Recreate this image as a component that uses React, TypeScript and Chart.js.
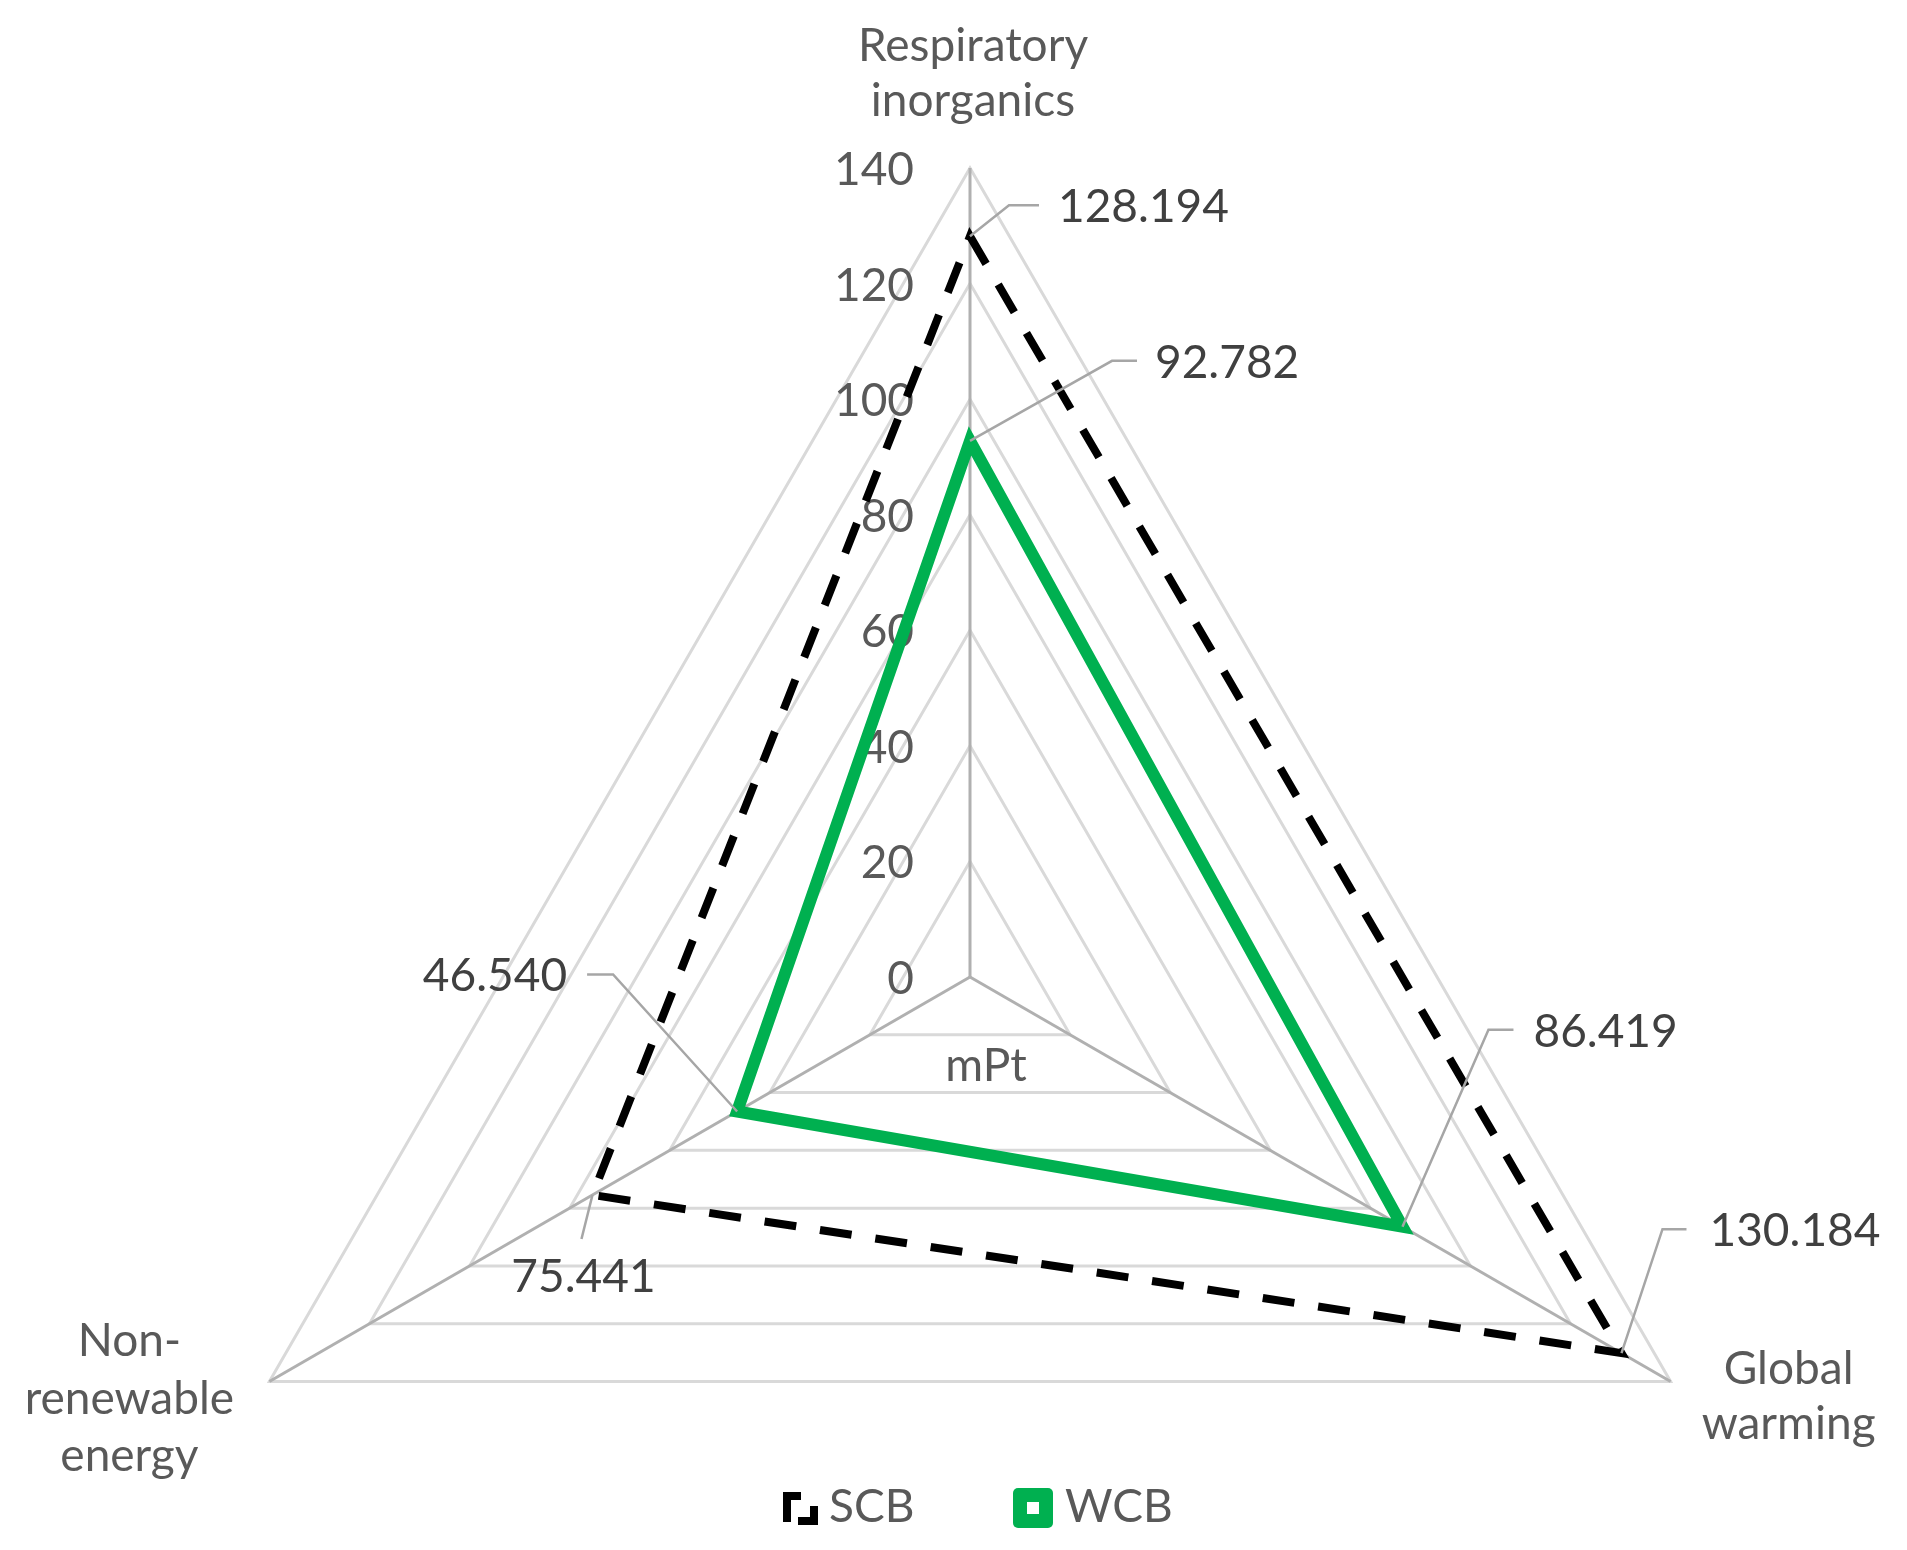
import React, { useEffect, useRef } from 'react';
import { Chart, registerables } from 'chart.js';

Chart.register(...registerables);

// ---- data ----
const categories: string[][] = [
  ['Respiratory', 'inorganics'],
  ['Global', 'warming'],
  ['Non-', 'renewable', 'energy'],
];
const seriesNames = ['SCB', 'WCB'];
const scbValues = [128.194, 130.184, 75.441];
const wcbValues = [92.782, 86.419, 46.54];
const tickMin = 0;
const tickMax = 140;
const tickStep = 20;
const unitLabel = 'mPt';

// ---- styling / layout (not data) ----
const W = 1907;
const H = 1550;
const CANVAS_H = 1800;
const FONT = 46;
const FAMILY = 'Lato, "Open Sans", sans-serif';
const TEXT_GRAY = '#595959';
const LABEL_DARK = '#404040';
const LEADER = '#a6a6a6';
const GREEN = '#00b050';

// leader-line geometry for each value label, relative to its point
type LeaderSpec = { path: [number, number][]; tx: number; ty: number; align: CanvasTextAlign };
const leaderSpecs: LeaderSpec[][] = [
  [
    { path: [[0, 0], [39, -31], [69, -31]], tx: 88, ty: -31, align: 'left' },
    { path: [[0, 0], [41, -124], [65, -124]], tx: 88, ty: -124, align: 'left' },
    { path: [[0, 0], [-11, 44]], tx: -9, ty: 80, align: 'center' },
  ],
  [
    { path: [[0, 0], [142, -80], [167, -80]], tx: 185, ty: -80, align: 'left' },
    { path: [[0, 0], [86, -197], [111, -197]], tx: 131, ty: -197, align: 'left' },
    { path: [[0, 0], [-124, -137], [-150, -137]], tx: -170, ty: -137, align: 'right' },
  ],
];

// point-label placement relative to the outer vertex
const pointLabelSpecs = [
  { dx: 3, baselines: [-107, -52] },
  { dx: 118, baselines: [2, 57] },
  { dx: -140, baselines: [-26, 32, 89] },
];

const overlayPlugin = {
  id: 'overlay',
  beforeDatasetsDraw(chart: any) {
    const s = chart.scales.r;
    const ctx: CanvasRenderingContext2D = chart.ctx;
    ctx.save();
    ctx.font = `${FONT}px ${FAMILY}`;
    ctx.fillStyle = TEXT_GRAY;
    ctx.textAlign = 'right';
    ctx.textBaseline = 'alphabetic';
    s.ticks.forEach((t: any) => {
      const p = s.getPointPositionForValue(0, t.value);
      ctx.fillText(String(t.label), s.xCenter - 56, p.y + 17);
    });
    // unit label
    ctx.textAlign = 'center';
    ctx.fillText(unitLabel, s.xCenter + 16, s.yCenter + 104);
    ctx.restore();
  },
  afterDatasetsDraw(chart: any) {
    const s = chart.scales.r;
    const ctx: CanvasRenderingContext2D = chart.ctx;
    ctx.save();
    ctx.font = `${FONT}px ${FAMILY}`;
    ctx.textBaseline = 'alphabetic';

    // point labels
    ctx.fillStyle = TEXT_GRAY;
    ctx.textAlign = 'center';
    categories.forEach((lines, i) => {
      const v = s.getPointPosition(i, s.drawingArea);
      const spec = pointLabelSpecs[i];
      lines.forEach((ln, k) => ctx.fillText(ln, v.x + spec.dx, v.y + spec.baselines[k]));
    });

    // value labels with leader lines
    chart.data.datasets.forEach((ds: any, d: number) => {
      const meta = chart.getDatasetMeta(d);
      meta.data.forEach((pt: any, i: number) => {
        const spec = leaderSpecs[d][i];
        ctx.strokeStyle = LEADER;
        ctx.lineWidth = 2.5;
        ctx.setLineDash([]);
        ctx.beginPath();
        spec.path.forEach(([dx, dy], k) => {
          if (k === 0) ctx.moveTo(pt.x + dx, pt.y + dy);
          else ctx.lineTo(pt.x + dx, pt.y + dy);
        });
        ctx.stroke();
        ctx.fillStyle = LABEL_DARK;
        ctx.textAlign = spec.align;
        ctx.fillText(Number(ds.data[i]).toFixed(3), pt.x + spec.tx, pt.y + spec.ty + 17);
      });
    });

    // legend
    const ly = 1522;
    const lx = s.xCenter - 187;
    ctx.strokeStyle = '#000';
    ctx.lineWidth = 8;
    ctx.lineCap = 'butt';
    ctx.lineJoin = 'miter';
    ctx.beginPath();
    ctx.moveTo(lx + 4, ly);
    ctx.lineTo(lx + 4, ly - 26);
    ctx.lineTo(lx + 18, ly - 26);
    ctx.stroke();
    ctx.beginPath();
    ctx.moveTo(lx + 31, ly - 16);
    ctx.lineTo(lx + 31, ly - 1);
    ctx.lineTo(lx + 15, ly - 1);
    ctx.stroke();
    ctx.fillStyle = TEXT_GRAY;
    ctx.textAlign = 'left';
    ctx.fillText(seriesNames[0], lx + 46, ly);

    const gx = lx + 230;
    ctx.fillStyle = GREEN;
    ctx.beginPath();
    (ctx as any).roundRect(gx, ly - 34, 40, 40, 5);
    ctx.fill();
    ctx.fillStyle = '#fff';
    ctx.fillRect(gx + 14, ly - 20, 12, 12);
    ctx.fillStyle = TEXT_GRAY;
    ctx.fillText(seriesNames[1], gx + 52, ly);
    ctx.restore();
  },
};

export default function App() {
  const ref = useRef<HTMLCanvasElement | null>(null);

  useEffect(() => {
    document.body.style.margin = '0';
    document.body.style.background = '#fff';
    document.body.style.overflow = 'hidden';
    if (!ref.current) return;
    Chart.defaults.font.family = FAMILY;
    const cx = 970;
    const cy = 977;
    const R = 809;
    const chart = new Chart(ref.current, {
      type: 'radar',
      data: {
        labels: categories,
        datasets: [
          {
            label: seriesNames[0],
            data: scbValues,
            borderColor: '#000000',
            borderWidth: 8,
            borderDash: [32, 24],
            borderCapStyle: 'butt',
            borderJoinStyle: 'miter',
            fill: false,
            pointRadius: 0,
            pointHoverRadius: 0,
          },
          {
            label: seriesNames[1],
            data: wcbValues,
            borderColor: GREEN,
            borderWidth: 12,
            borderJoinStyle: 'miter',
            fill: false,
            pointRadius: 0,
            pointHoverRadius: 0,
          },
        ],
      },
      options: {
        responsive: false,
        animation: false,
        devicePixelRatio: 1,
        events: [],
        layout: {
          autoPadding: false,
          padding: { left: cx - R, top: cy - R, right: W - (cx + R), bottom: CANVAS_H - (cy + R) },
        },
        elements: { line: { tension: 0 } },
        plugins: {
          legend: { display: false },
          tooltip: { enabled: false },
          title: { display: false },
        },
        scales: {
          r: {
            min: tickMin,
            max: tickMax,
            ticks: { display: false, stepSize: tickStep },
            grid: { circular: false, color: '#d9d9d9', lineWidth: 3 },
            angleLines: { display: true, color: '#b0b0b0', lineWidth: 3 },
            pointLabels: { display: false },
          },
        },
      } as any,
      plugins: [overlayPlugin],
    });
    return () => chart.destroy();
  }, []);

  return (
    <div style={{ width: W, height: H, position: 'relative', overflow: 'hidden', background: '#fff' }}>
      <canvas ref={ref} width={W} height={CANVAS_H} style={{ width: W, height: CANVAS_H, display: 'block' }} />
    </div>
  );
}
